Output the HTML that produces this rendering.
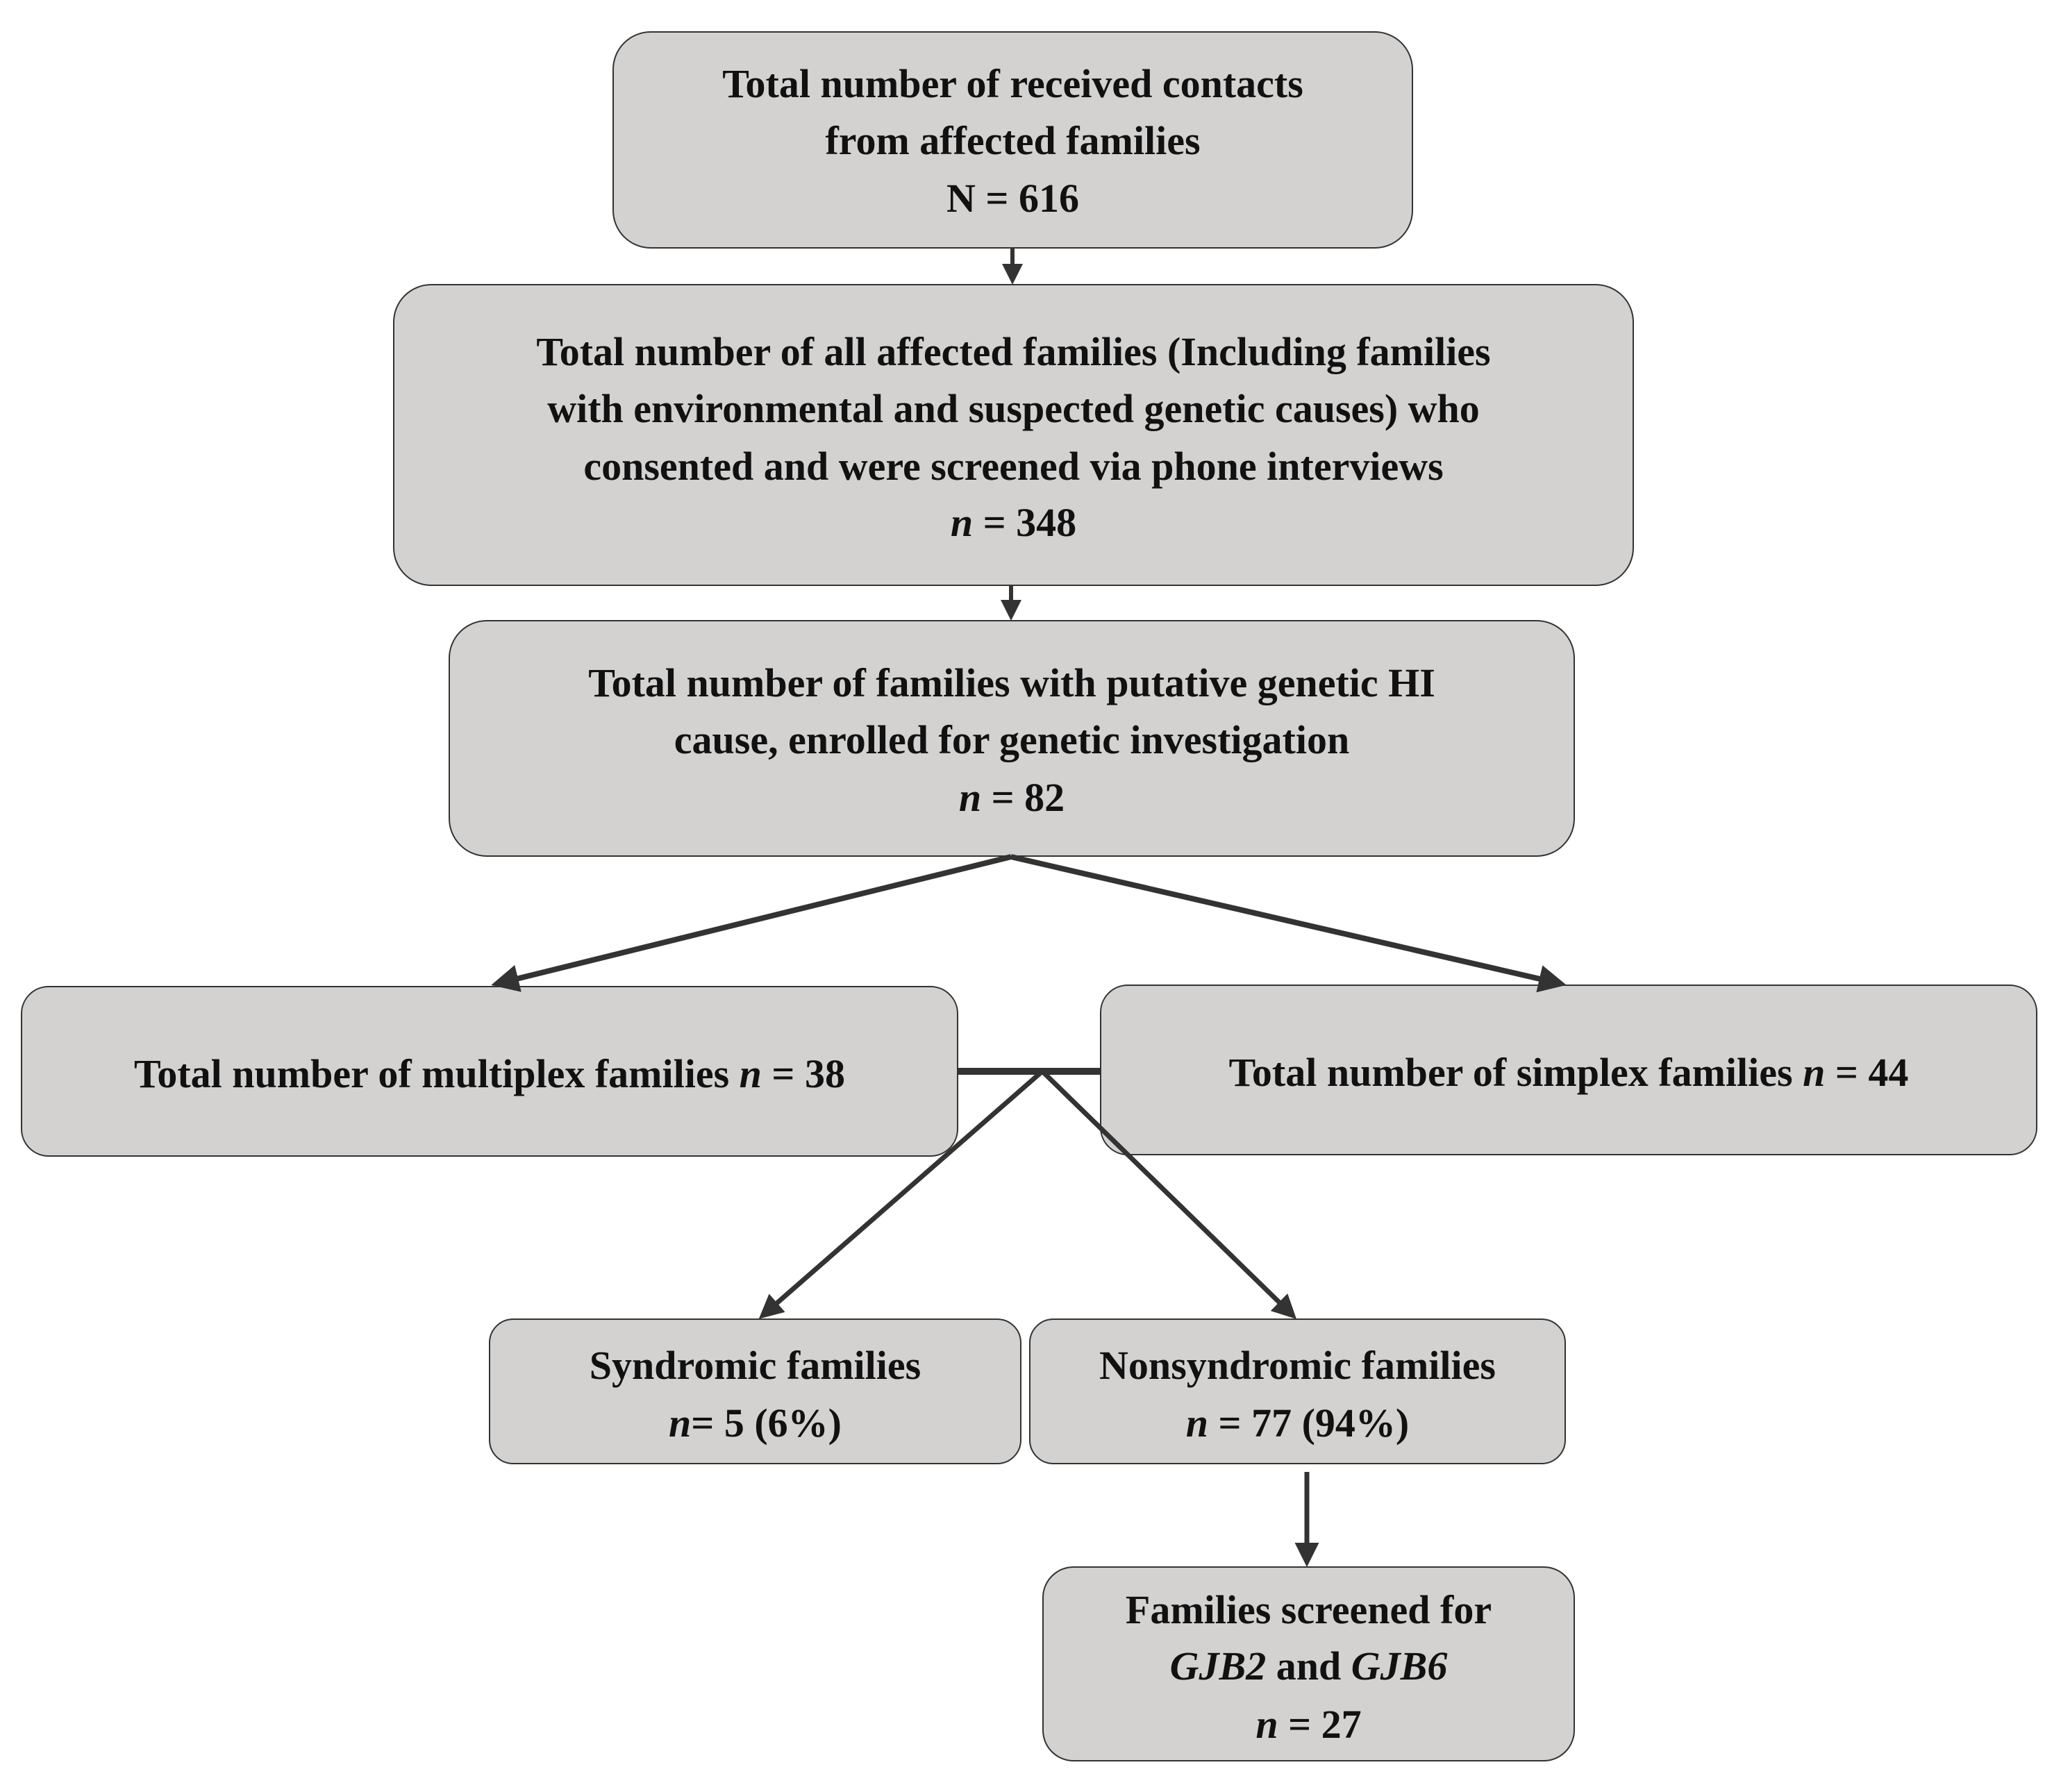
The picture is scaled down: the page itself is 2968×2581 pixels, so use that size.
<!DOCTYPE html>
<html><head><meta charset="utf-8"><style>
body{margin:0;width:2968px;height:2581px;background:#fff;position:relative;overflow:hidden;font-family:"Liberation Serif",serif;font-weight:bold;color:#111}
.b{position:absolute;background:#d3d2d1;border:2px solid #333;border-radius:55px;box-sizing:border-box}
.t{position:absolute;text-align:center;font-size:58px;line-height:84px;height:84px;white-space:nowrap}
svg{position:absolute;left:0;top:0}
</style></head><body>
<div class="b" style="left:882px;top:45px;width:1153px;height:313px"></div>
<div class="b" style="left:566px;top:409px;width:1787px;height:435px"></div>
<div class="b" style="left:646px;top:893px;width:1622px;height:341px"></div>
<div class="b" style="left:30px;top:1420px;width:1350px;height:246px;border-radius:40px"></div>
<div class="b" style="left:1584px;top:1418px;width:1350px;height:246px;border-radius:40px"></div>
<div class="b" style="left:704px;top:1899px;width:767px;height:210px;border-radius:35px"></div>
<div class="b" style="left:1482px;top:1899px;width:773px;height:210px;border-radius:35px"></div>
<div class="b" style="left:1501px;top:2256px;width:767px;height:281px;border-radius:45px"></div>
<svg width="2968" height="2581">
<defs><marker id="a" markerWidth="6" markerHeight="6" refX="5" refY="3" orient="auto" markerUnits="strokeWidth"><path d="M0,0 L6,3 L0,6 z" fill="#333"/></marker>
<marker id="a2" markerWidth="5" markerHeight="5" refX="4" refY="2.5" orient="auto" markerUnits="strokeWidth"><path d="M0,0 L5,2.5 L0,5 z" fill="#333"/></marker></defs>
<g stroke="#333" fill="none">
<line x1="1458" y1="358" x2="1458" y2="404" stroke-width="6" marker-end="url(#a2)"/>
<line x1="1456" y1="844" x2="1456" y2="888" stroke-width="6" marker-end="url(#a2)"/>
<line x1="1456" y1="1234" x2="715" y2="1417" stroke-width="8" marker-end="url(#a2)"/>
<line x1="1456" y1="1234" x2="2248" y2="1417" stroke-width="8" marker-end="url(#a2)"/>
<line x1="1380" y1="1543" x2="1584" y2="1543" stroke-width="10"/>
<line x1="1501" y1="1543" x2="1098" y2="1895" stroke-width="7" marker-end="url(#a2)"/>
<line x1="1501" y1="1543" x2="1862" y2="1895" stroke-width="7" marker-end="url(#a2)"/>
<line x1="1882" y1="2120" x2="1882" y2="2250" stroke-width="7" marker-end="url(#a2)"/>
</g></svg>
<div class="t" style="left:882px;width:1153px;top:79px">Total number of received contacts</div>
<div class="t" style="left:882px;width:1153px;top:161px">from affected families</div>
<div class="t" style="left:882px;width:1153px;top:244px">N = 616</div>
<div class="t" style="left:566px;width:1787px;top:465px">Total number of all affected families (Including families</div>
<div class="t" style="left:566px;width:1787px;top:547px">with environmental and suspected genetic causes) who</div>
<div class="t" style="left:566px;width:1787px;top:630px">consented and were screened via phone interviews</div>
<div class="t" style="left:566px;width:1787px;top:711px"><i>n</i> = 348</div>
<div class="t" style="left:646px;width:1622px;top:942px">Total number of families with putative genetic HI</div>
<div class="t" style="left:646px;width:1622px;top:1024px">cause, enrolled for genetic investigation</div>
<div class="t" style="left:646px;width:1622px;top:1107px"><i>n</i> = 82</div>
<div class="t" style="left:30px;width:1350px;top:1505px">Total number of multiplex families <i>n</i> = 38</div>
<div class="t" style="left:1584px;width:1350px;top:1503px">Total number of simplex families <i>n</i> = 44</div>
<div class="t" style="left:704px;width:767px;top:1925px">Syndromic families</div>
<div class="t" style="left:704px;width:767px;top:2008px"><i>n</i>= 5 (6%)</div>
<div class="t" style="left:1482px;width:773px;top:1925px">Nonsyndromic families</div>
<div class="t" style="left:1482px;width:773px;top:2008px"><i>n</i> = 77 (94%)</div>
<div class="t" style="left:1501px;width:767px;top:2277px">Families screened for</div>
<div class="t" style="left:1501px;width:767px;top:2358px"><i>GJB2</i> and <i>GJB6</i></div>
<div class="t" style="left:1501px;width:767px;top:2442px"><i>n</i> = 27</div>
</body></html>
